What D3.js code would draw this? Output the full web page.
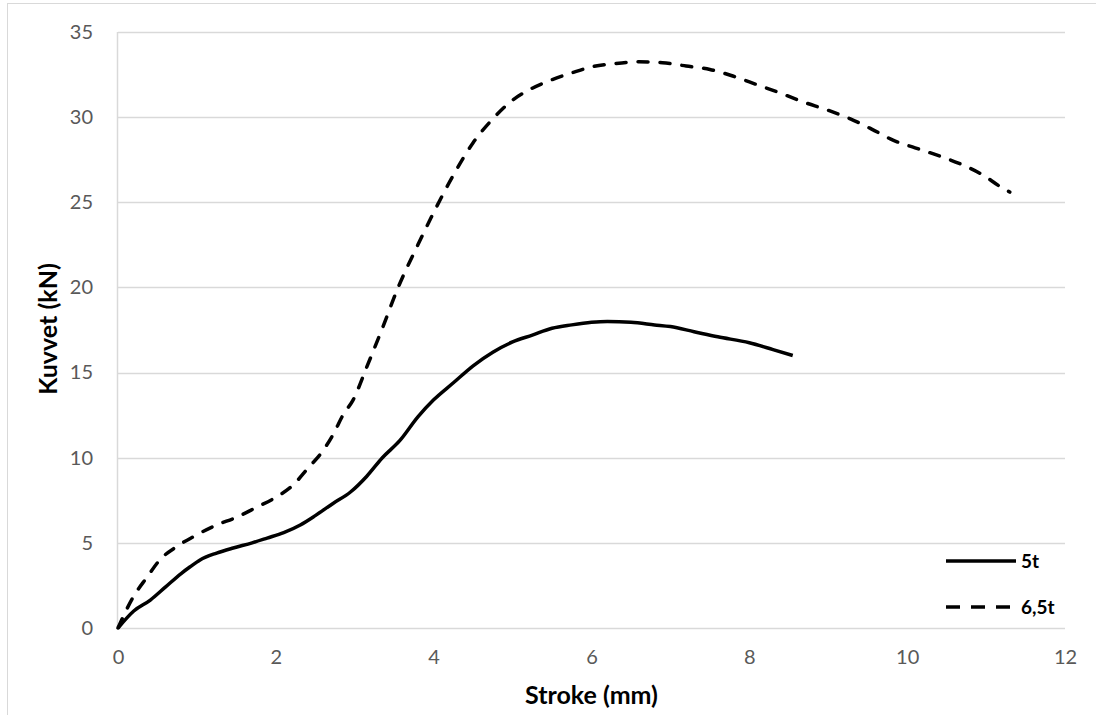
<!DOCTYPE html>
<html>
<head>
<meta charset="utf-8">
<script src="https://cdn.jsdelivr.net/npm/d3@7"></script>
<style>
  body { margin: 0; background: #fff; }
  svg { font-family: Lato, "Open Sans", sans-serif; }
</style>
</head>
<body>
<div id="graph"></div>
<script>
// series: [stroke mm, force kN]
var series5t = [
  [0, 0], [0.2, 1.0], [0.41, 1.64], [0.6, 2.4], [0.8, 3.2], [0.91, 3.58], [1.04, 4.0],
  [1.25, 4.4], [1.46, 4.7], [1.7, 5.0], [1.89, 5.28], [2.1, 5.6], [2.31, 6.05],
  [2.5, 6.6], [2.72, 7.3], [2.95, 8.0], [3.15, 8.9], [3.35, 10.0], [3.57, 11.0],
  [3.8, 12.4], [4.0, 13.4], [4.25, 14.4], [4.5, 15.4], [4.75, 16.2], [5.0, 16.8],
  [5.25, 17.2], [5.5, 17.6], [5.75, 17.8], [6.0, 17.95], [6.2, 18.0], [6.5, 17.95],
  [6.8, 17.8], [7.0, 17.7], [7.3, 17.4], [7.6, 17.1], [8.0, 16.75], [8.3, 16.35], [8.55, 16.0]
];
var series65t = [
  [0, 0], [0.19, 1.8], [0.37, 3.0], [0.53, 4.0], [0.75, 4.8], [0.95, 5.35], [1.25, 6.05],
  [1.5, 6.5], [1.76, 7.1], [2.01, 7.7], [2.22, 8.4], [2.41, 9.4], [2.58, 10.3],
  [2.73, 11.4], [2.85, 12.5], [2.98, 13.4], [3.15, 15.3], [3.35, 17.6], [3.55, 20.0],
  [3.8, 22.5], [4.0, 24.4], [4.25, 26.6], [4.5, 28.5], [4.75, 29.9], [5.0, 31.0],
  [5.25, 31.7], [5.5, 32.2], [5.75, 32.6], [6.0, 32.95], [6.3, 33.15], [6.6, 33.25],
  [6.9, 33.2], [7.2, 33.0], [7.5, 32.8], [7.8, 32.4], [8.1, 31.9], [8.4, 31.4],
  [8.68, 30.9], [9.0, 30.4], [9.28, 29.9], [9.55, 29.3], [9.82, 28.65], [10.1, 28.2],
  [10.42, 27.7], [10.7, 27.2], [10.96, 26.6], [11.22, 25.8], [11.3, 25.6]
];
var seriesNames = ["5t", "6,5t"];
var xTicks = [0, 2, 4, 6, 8, 10, 12];
var yTicks = [0, 5, 10, 15, 20, 25, 30, 35];

var W = 1096, H = 715;
var margin = {top: 32, right: 31, bottom: 87, left: 118},
    width = 1065 - margin.left,
    height = 628 - margin.top;

var svg = d3.select("#graph").append("svg")
    .attr("width", W)
    .attr("height", H);

// chart border
svg.append("rect")
    .attr("x", 7.5).attr("y", 3.5)
    .attr("width", W).attr("height", H)
    .attr("fill", "none").attr("stroke", "#d9d9d9");

var g = svg.append("g")
    .attr("transform", "translate(" + margin.left + "," + margin.top + ")");

var x = d3.scaleLinear().domain([0, 12]).range([0, width]);
var y = d3.scaleLinear().domain([0, 35]).range([height, 0]);

// gridlines
g.selectAll(".grid").data(yTicks).enter().append("line")
    .attr("x1", 0).attr("x2", width)
    .attr("y1", function(d) { return Math.round(y(d)) + 0.5; })
    .attr("y2", function(d) { return Math.round(y(d)) + 0.5; })
    .attr("stroke", "#d9d9d9").attr("stroke-width", 1.5);

// vertical axis line
g.append("line")
    .attr("x1", -0.5).attr("x2", -0.5)
    .attr("y1", 0).attr("y2", height)
    .attr("stroke", "#d9d9d9").attr("stroke-width", 1.5);

// Y axis labels
var yAxis = g.append("g")
    .call(d3.axisLeft(y).tickValues(yTicks).tickSize(0).tickPadding(25));
yAxis.select(".domain").remove();
yAxis.selectAll("text").attr("font-size", 20).attr("fill", "#595959")
    .attr("font-family", "Lato, sans-serif");

// X axis labels
var xAxis = g.append("g")
    .attr("transform", "translate(0," + height + ")")
    .call(d3.axisBottom(x).tickValues(xTicks).tickSize(0).tickPadding(22));
xAxis.select(".domain").remove();
xAxis.selectAll("text").attr("font-size", 20).attr("fill", "#595959")
    .attr("font-family", "Lato, sans-serif");

// lines
var valueline = d3.line()
    .curve(d3.curveMonotoneX)
    .x(function(d) { return x(d[0]); })
    .y(function(d) { return y(d[1]); });

g.append("path").datum(series5t)
    .attr("d", valueline)
    .attr("fill", "none").attr("stroke", "#000").attr("stroke-width", 3.5)
    .attr("stroke-linejoin", "round");

g.append("path").datum(series65t)
    .attr("d", valueline)
    .attr("fill", "none").attr("stroke", "#000").attr("stroke-width", 3.5)
    .attr("stroke-linecap", "round")
    .attr("stroke-dasharray", "10,12");

// axis titles
svg.append("text")
    .attr("x", x(6) + margin.left).attr("y", 704)
    .attr("text-anchor", "middle")
    .attr("font-size", 25).attr("font-weight", "bold").attr("fill", "#000")
    .text("Stroke (mm)");

svg.append("text")
    .attr("transform", "translate(57," + 329 + ") rotate(-90)")
    .attr("text-anchor", "middle")
    .attr("font-size", 25).attr("font-weight", "bold").attr("fill", "#000")
    .text("Kuvvet (kN)");

// legend
var legend = svg.append("g");
var dashes = [null, "14,11"];
seriesNames.forEach(function(name, i) {
  var ly = 561 + i * 46;
  legend.append("line")
      .attr("x1", 946).attr("x2", 1016)
      .attr("y1", ly).attr("y2", ly)
      .attr("stroke", "#000").attr("stroke-width", 3.5)
      .attr("stroke-dasharray", dashes[i]);
  legend.append("text")
      .attr("x", 1021).attr("y", ly + 7)
      .attr("font-size", 19).attr("font-weight", "bold").attr("fill", "#000")
      .text(name);
});
</script>
</body>
</html>
